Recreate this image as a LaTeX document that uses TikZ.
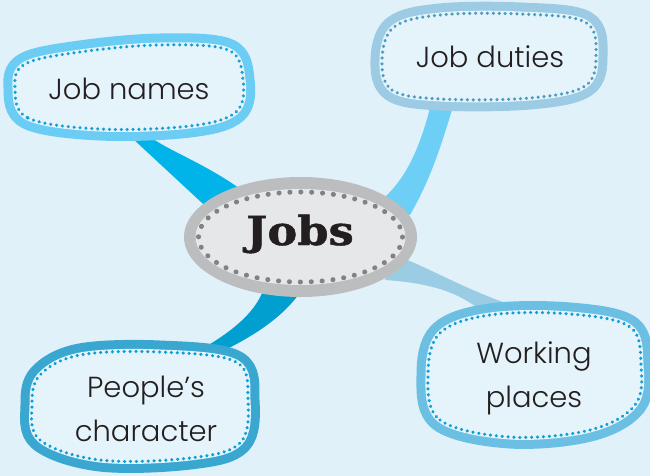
\documentclass[tikz,border=0pt]{standalone}
\usepackage{fontspec}
\setmainfont{Poppins}[UprightFont=* Light]
\newfontfamily\jobsfont{DejaVu Serif}[FakeStretch=1.12,FakeBold=1.2]
\usetikzlibrary{shapes.geometric}
\definecolor{bg}{HTML}{E0F1F9}
\definecolor{innerfill}{HTML}{E5F3FA}
\definecolor{txt}{HTML}{231F20}
\definecolor{bandA}{HTML}{6BCDF3}
\definecolor{dotA}{HTML}{16A0D8}
\definecolor{bandB}{HTML}{9CCBE3}
\definecolor{dotB}{HTML}{4A9CC4}
\definecolor{bandC}{HTML}{3AA7D1}
\definecolor{dotC}{HTML}{0C9ED8}
\definecolor{bandD}{HTML}{6BBFE3}
\definecolor{dotD}{HTML}{0E9FD8}
\definecolor{ribA}{HTML}{00B4EA}
\definecolor{ribB}{HTML}{6DCFF6}
\definecolor{ribC}{HTML}{9ACDE3}
\definecolor{ribD}{HTML}{009FD0}
\definecolor{grayout}{HTML}{BBBDBF}
\definecolor{grayin}{HTML}{E6E7E8}
\definecolor{graydot}{HTML}{808285}
\tikzset{
  blobdots/.style={line width=3.4pt,line cap=round,dash pattern=on 0.1pt off 5.8pt},
  label/.style={text=txt,font=\fontsize{29}{44}\selectfont,align=center,inner sep=0pt},
}
\newcommand\mkblob[3]{%
  \draw[line width=23pt,draw=#1,line join=round] plot[smooth cycle,tension=0.6] coordinates {#3};
  \draw[line width=5pt,draw=innerfill,fill=innerfill] plot[smooth cycle,tension=0.6] coordinates {#3};
  \draw[blobdots,draw=#2] plot[smooth cycle,tension=0.6] coordinates {#3};}
\begin{document}
\begin{tikzpicture}[x=1pt,y=-1pt]
\useasboundingbox (0,0) rectangle (650,476);
\fill[bg] (0,0) rectangle (650,476);
% ribbons
\fill[ribA] (118,125) -- (140,128) .. controls (160,150) and (205,160) .. (255,200)
  -- (215,215) -- cycle;
\fill[ribB] (432,100) -- (455,100) .. controls (440,150) and (430,180) .. (410,215)
  -- (370,210) .. controls (395,190) and (415,170) .. (432,100) -- cycle;
\fill[ribC] (395,255) .. controls (430,268) and (465,290) .. (520,308)
  -- (485,314) .. controls (460,292) and (430,283) .. (385,280) -- cycle;
\fill[ribD] (265,285) -- (305,285) .. controls (290,310) and (265,330) .. (225,350)
  -- (200,350) .. controls (235,330) and (258,310) .. (265,285) -- cycle;
% blobs
\mkblob{bandA}{dotA}{(15,88) (28,118) (100,129) (190,126) (236,112) (243,80) (228,50) (160,45) (80,52) (25,64)}
\mkblob{bandB}{dotB}{(382,60) (392,90) (440,99) (530,98) (585,86) (596,55) (585,22) (520,14) (440,15) (394,27)}
\mkblob{bandC}{dotC}{(32,405) (40,440) (100,460) (190,458) (240,443) (248,400) (236,362) (160,352) (80,355) (40,375)}
\mkblob{bandD}{dotD}{(428,375) (440,420) (510,437) (590,430) (635,405) (641,365) (630,327) (570,314) (490,315) (440,333)}
% central ellipse
\node[ellipse,fill=grayout,minimum width=233pt,minimum height=120pt,inner sep=0pt] (jobsouter) at (300.5,237) {};
\fill[grayin] (jobsouter.center) ellipse [x radius=105, y radius=48];
\draw[graydot,line width=5pt,line cap=round,dash pattern=on 0.1pt off 10.8pt] (jobsouter.center) ellipse [x radius=102, y radius=45];
\node[anchor=base,text=txt,inner sep=0pt,font=\jobsfont\bfseries\fontsize{40}{40}\selectfont] (jobs) at (300,245) {Jobs};
% labels
\node[label,anchor=base] (jobnames) at (129,100) {Job names};
\node[label,anchor=base] (jobduties) at (490,68) {Job duties};
\node[label] (people) at (146,409) {People’s\\character};
\node[label] (working) at (534,378) {Working\\places};
\end{tikzpicture}
\end{document}
